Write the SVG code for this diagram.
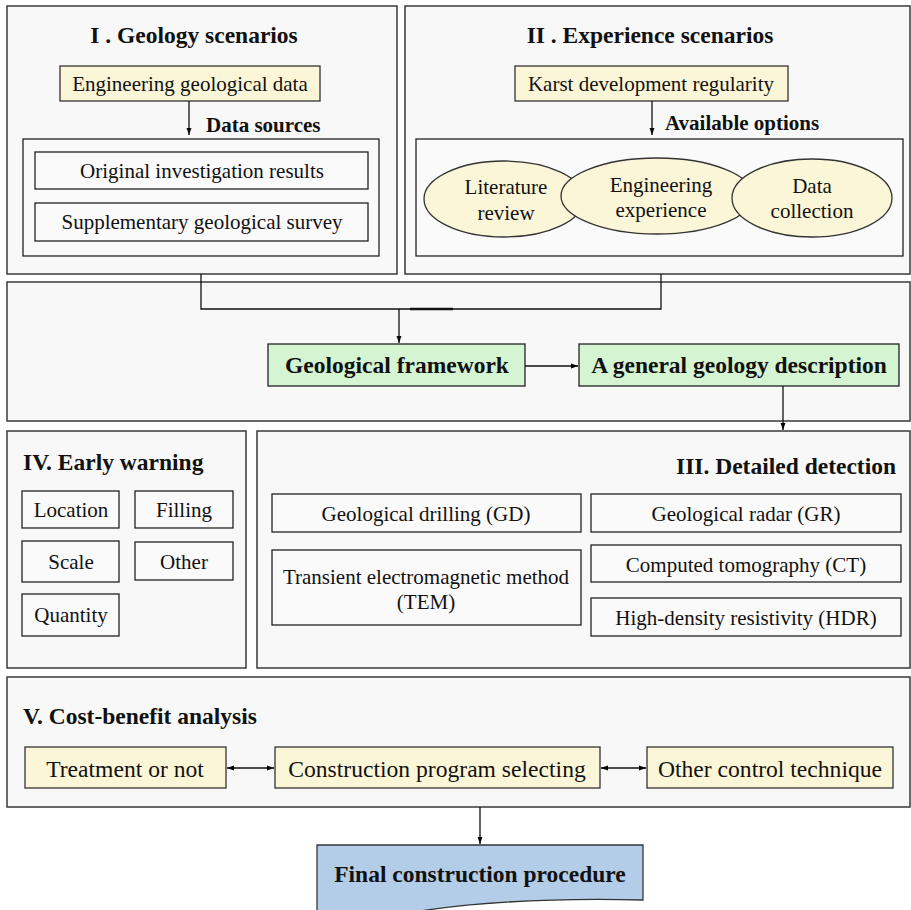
<svg xmlns="http://www.w3.org/2000/svg" width="911" height="910" viewBox="0 0 911 910">
<defs>
<marker id="ah" viewBox="0 0 10 10" refX="10" refY="5" markerWidth="7" markerHeight="7" orient="auto-start-reverse" markerUnits="userSpaceOnUse"><path d="M0,1.5 L10,5 L0,8.5 z" fill="#000"/></marker>
<style>
.panel{fill:#f8f8f8;stroke:#3a3a3a;stroke-width:1.5}
.box{fill:#fafafa;stroke:#222;stroke-width:1.3}
.yel{fill:#fcf6d8;stroke:#333;stroke-width:1.3}
.grn{fill:#d4f4d2;stroke:#222;stroke-width:1.3}
.blu{fill:#b3cde8;stroke:#333;stroke-width:1.3}
.t{font-family:"Liberation Serif","Times New Roman",serif;font-size:21px;fill:#111;text-anchor:middle}
.tl{font-family:"Liberation Serif","Times New Roman",serif;font-size:23.6px;fill:#111;text-anchor:middle}
.h{font-family:"Liberation Serif","Times New Roman",serif;font-size:23.5px;font-weight:bold;fill:#111}
.b{font-family:"Liberation Serif","Times New Roman",serif;font-size:21px;font-weight:bold;fill:#111}
.ln{stroke:#111;stroke-width:1.3;fill:none}
</style>
</defs>
<rect width="911" height="910" fill="#fff"/>

<g id="panel-I">
<rect class="panel" x="7" y="6" width="390" height="268"/>
<text class="h" x="194" y="43" text-anchor="middle">I . Geology scenarios</text>
<g id="eng-geo-data"><rect class="yel" x="60" y="66" width="260" height="35"/><text class="t" x="190" y="91">Engineering geological data</text></g>
<text class="b" x="206" y="132">Data sources</text>
<rect class="box" x="23" y="139" width="356" height="117"/>
<g id="orig-inv"><rect class="box" x="35" y="152" width="333" height="37"/><text class="t" x="202" y="178">Original investigation results</text></g>
<g id="supp-survey"><rect class="box" x="35" y="203" width="333" height="38"/><text class="t" x="202" y="229">Supplementary geological survey</text></g>
</g>

<g id="panel-II">
<rect class="panel" x="405" y="6" width="505" height="268"/>
<text class="h" x="650" y="43" text-anchor="middle">II . Experience scenarios</text>
<g id="karst"><rect class="yel" x="515" y="66" width="273" height="35"/><text class="t" x="651" y="91">Karst development regularity</text></g>
<text class="b" x="665" y="130">Available options</text>
<rect class="box" x="416" y="139" width="487" height="117"/>
<g id="literature"><ellipse class="yel" cx="504" cy="199" rx="80" ry="38"/><text class="t" x="506" y="194">Literature</text><text class="t" x="506" y="220">review</text></g>
<g id="engexp"><ellipse class="yel" cx="657" cy="196" rx="96" ry="38"/><text class="t" x="661" y="192">Engineering</text><text class="t" x="661" y="217">experience</text></g>
<g id="datacoll"><ellipse class="yel" cx="812" cy="198" rx="80" ry="39"/><text class="t" x="812" y="193">Data</text><text class="t" x="812" y="218">collection</text></g>
</g>

<g id="panel-mid">
<rect class="panel" x="7" y="282" width="903" height="139"/>
<g id="geo-framework"><rect class="grn" x="268" y="344" width="257" height="42"/><text class="h" x="397" y="373" text-anchor="middle">Geological framework</text></g>
<g id="general-desc"><rect class="grn" x="579" y="344" width="320" height="42"/><text class="h" x="739" y="373" text-anchor="middle">A general geology description</text></g>
</g>

<g id="panel-IV">
<rect class="panel" x="7" y="431" width="239" height="237"/>
<text class="h" x="23" y="470">IV. Early warning</text>
<g id="location"><rect class="box" x="22" y="491" width="97" height="37"/><text class="t" x="71" y="517">Location</text></g>
<g id="filling"><rect class="box" x="135" y="491" width="98" height="37"/><text class="t" x="184" y="517">Filling</text></g>
<g id="scale"><rect class="box" x="22" y="541" width="97" height="41"/><text class="t" x="71" y="569">Scale</text></g>
<g id="other"><rect class="box" x="135" y="542" width="98" height="38"/><text class="t" x="184" y="569">Other</text></g>
<g id="quantity"><rect class="box" x="22" y="594" width="97" height="42"/><text class="t" x="71" y="622">Quantity</text></g>
</g>

<g id="panel-III">
<rect class="panel" x="257" y="431" width="653" height="237"/>
<text class="h" x="896" y="474" text-anchor="end">III. Detailed detection</text>
<g id="gd"><rect class="box" x="272" y="494" width="309" height="38"/><text class="t" x="426" y="521">Geological drilling (GD)</text></g>
<g id="tem"><rect class="box" x="272" y="550" width="309" height="75"/><text class="t" x="426" y="584">Transient electromagnetic method</text><text class="t" x="426" y="609">(TEM)</text></g>
<g id="gr"><rect class="box" x="591" y="494" width="310" height="38"/><text class="t" x="746" y="521">Geological radar (GR)</text></g>
<g id="ct"><rect class="box" x="591" y="545" width="310" height="37"/><text class="t" x="746" y="572">Computed tomography (CT)</text></g>
<g id="hdr"><rect class="box" x="591" y="598" width="310" height="38"/><text class="t" x="746" y="625">High-density resistivity (HDR)</text></g>
</g>

<g id="panel-V">
<rect class="panel" x="7" y="677" width="903" height="130"/>
<text class="h" x="23" y="724">V. Cost-benefit analysis</text>
<g id="treatment"><rect class="yel" x="25" y="747" width="201" height="41"/><text class="tl" x="125" y="777">Treatment or not</text></g>
<g id="construction"><rect class="yel" x="275" y="747" width="325" height="41"/><text class="tl" x="437" y="777">Construction program selecting</text></g>
<g id="othercontrol"><rect class="yel" x="647" y="747" width="246" height="41"/><text class="tl" x="770" y="777">Other control technique</text></g>
</g>

<g id="final">
<path class="blu" d="M317,845 L643,845 L643,900 C560,898 480,902 420,911 L317,911 Z"/>
<text class="h" x="480" y="882" text-anchor="middle">Final construction procedure</text>
</g>

<g id="connectors">
<line class="ln" x1="189" y1="101" x2="189" y2="135" marker-end="url(#ah)"/>
<line class="ln" x1="652" y1="101" x2="652" y2="135" marker-end="url(#ah)"/>
<polyline class="ln" points="201,274 201,309 661,309 661,274"/>
<line x1="410" y1="309" x2="453" y2="309" stroke="#111" stroke-width="2.5"/>
<line class="ln" x1="399" y1="309" x2="399" y2="343" marker-end="url(#ah)"/>
<line class="ln" x1="525" y1="366" x2="578" y2="366" marker-end="url(#ah)"/>
<line class="ln" x1="783" y1="386" x2="783" y2="430" marker-end="url(#ah)"/>
<line class="ln" x1="227" y1="768" x2="274" y2="768" marker-start="url(#ah)" marker-end="url(#ah)"/>
<line class="ln" x1="601" y1="768" x2="646" y2="768" marker-start="url(#ah)" marker-end="url(#ah)"/>
<line class="ln" x1="480" y1="807" x2="480" y2="844" marker-end="url(#ah)"/>
</g>
</svg>
